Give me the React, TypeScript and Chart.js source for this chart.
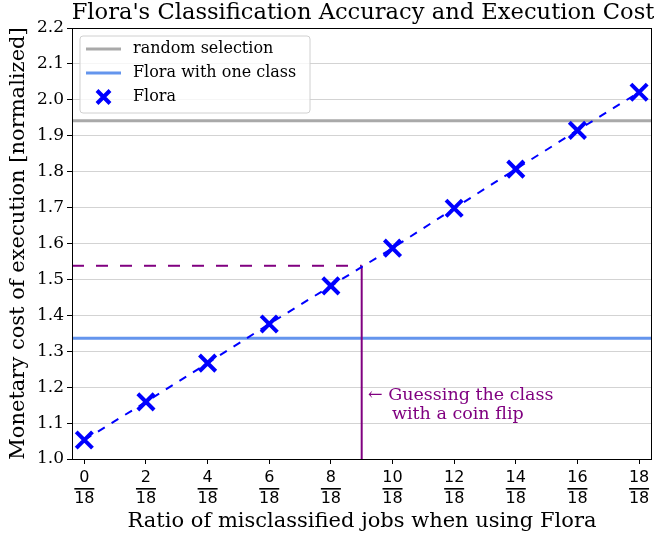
import React, { useEffect, useRef } from "react";
import { Chart, registerables } from "chart.js";

Chart.register(...registerables);

const X_TICKS = [0, 2, 4, 6, 8, 10, 12, 14, 16, 18];
const X_DENOM = "18";
const Y_TICKS = [1.0, 1.1, 1.2, 1.3, 1.4, 1.5, 1.6, 1.7, 1.8, 1.9, 2.0, 2.1, 2.2];
const FLORA_X = [0, 2, 4, 6, 8, 10, 12, 14, 16, 18];
const FLORA_Y = [1.053, 1.159, 1.267, 1.376, 1.482, 1.587, 1.698, 1.807, 1.915, 2.021];
const RANDOM_SELECTION = 1.942;
const ONE_CLASS = 1.336;
const COIN_X = 9;
const COIN_Y = 1.538;
const X_MIN = -0.4;
const X_MAX = 18.42;
const Y_MIN = 1.0;
const Y_MAX = 2.2;

const TITLE = "Flora's Classification Accuracy and Execution Cost";
const X_LABEL = "Ratio of misclassified jobs when using Flora";
const Y_LABEL = "Monetary cost of execution [normalized]";
const ANNOT_1 = "← Guessing the class";
const ANNOT_2 = "with a coin flip";

const SERIF = "'DejaVu Serif', serif";
const SANS = "'DejaVu Sans', sans-serif";

const GRAY = "#a9a9a9";
const CBLUE = "#6495ed";
const BLUE = "#0000ff";
const PURPLE = "#800080";

const LEGEND_ITEMS = [
  { label: "random selection", kind: "line", color: GRAY },
  { label: "Flora with one class", kind: "line", color: CBLUE },
  { label: "Flora", kind: "marker", color: BLUE },
];

const decorPlugin = {
  id: "decor",
  afterDraw(chart: any) {
    const { ctx, chartArea } = chart;
    const xs = chart.scales.x;
    const ca = chartArea;
    ctx.save();
    // frame
    ctx.strokeStyle = "#000";
    ctx.lineWidth = 1;
    ctx.strokeRect(Math.round(ca.left) + 0.5, Math.round(ca.top) + 0.5, Math.round(ca.right - ca.left) - 1, Math.round(ca.bottom - ca.top));

    // x fraction tick labels
    ctx.fillStyle = "#000";
    ctx.font = `16px ${SANS}`;
    ctx.textAlign = "center";
    ctx.textBaseline = "middle";
    X_TICKS.forEach((v) => {
      const px = xs.getPixelForValue(v);
      ctx.fillText(String(v), px, ca.bottom + 18.5);
      ctx.fillText(X_DENOM, px, ca.bottom + 39.5);
      ctx.fillRect(px - 10, ca.bottom + 29, 20, 1.6);
    });

    // title
    ctx.font = `22.6px ${SERIF}`;
    ctx.textBaseline = "middle";
    ctx.fillText(TITLE, (ca.left + ca.right) / 2 + 1, 13);

    // x label
    ctx.font = `21px ${SERIF}`;
    ctx.fillText(X_LABEL, (ca.left + ca.right) / 2, 522);

    // y label
    ctx.save();
    ctx.translate(19, (ca.top + ca.bottom) / 2);
    ctx.rotate(-Math.PI / 2);
    ctx.fillText(Y_LABEL, 0, 0);
    ctx.restore();

    // annotation
    ctx.fillStyle = PURPLE;
    ctx.font = `17.5px ${SERIF}`;
    ctx.textAlign = "left";
    ctx.fillText(ANNOT_1, 368, 395);
    ctx.fillText(ANNOT_2, 392, 414);

    // legend
    const lx = 80, ly = 36, lw = 230, lh = 77;
    ctx.beginPath();
    const r = 3;
    ctx.moveTo(lx + r, ly);
    ctx.arcTo(lx + lw, ly, lx + lw, ly + lh, r);
    ctx.arcTo(lx + lw, ly + lh, lx, ly + lh, r);
    ctx.arcTo(lx, ly + lh, lx, ly, r);
    ctx.arcTo(lx, ly, lx + lw, ly, r);
    ctx.closePath();
    ctx.fillStyle = "rgba(255,255,255,0.8)";
    ctx.fill();
    ctx.strokeStyle = "#d0d0d0";
    ctx.lineWidth = 1;
    ctx.stroke();
    ctx.font = `16px ${SERIF}`;
    ctx.textBaseline = "middle";
    LEGEND_ITEMS.forEach((it, i) => {
      const y = ly + 13 + i * 24;
      if (it.kind === "line") {
        ctx.strokeStyle = it.color;
        ctx.lineWidth = 3;
        ctx.beginPath();
        ctx.moveTo(86, y);
        ctx.lineTo(121, y);
        ctx.stroke();
      } else {
        ctx.strokeStyle = it.color;
        ctx.lineWidth = 4;
        ctx.beginPath();
        ctx.moveTo(97, y - 6.5);
        ctx.lineTo(110, y + 6.5);
        ctx.moveTo(110, y - 6.5);
        ctx.lineTo(97, y + 6.5);
        ctx.stroke();
      }
      ctx.fillStyle = "#000";
      ctx.fillText(it.label, 133, y);
    });
    ctx.restore();
  },
};

export default function App() {
  const ref = useRef<HTMLCanvasElement>(null);
  useEffect(() => {
    document.body.style.margin = "0";
    const canvas = ref.current!;
    const chart = new Chart(canvas, {
      type: "scatter",
      data: {
        datasets: [
          {
            label: "random selection",
            data: [{ x: X_MIN, y: RANDOM_SELECTION }, { x: X_MAX, y: RANDOM_SELECTION }],
            showLine: true,
            borderColor: GRAY,
            borderWidth: 3,
            pointRadius: 0,
            order: 5,
          },
          {
            label: "Flora with one class",
            data: [{ x: X_MIN, y: ONE_CLASS }, { x: X_MAX, y: ONE_CLASS }],
            showLine: true,
            borderColor: CBLUE,
            borderWidth: 3,
            pointRadius: 0,
            order: 4,
          },
          {
            label: "coin h",
            data: [{ x: X_MIN, y: COIN_Y }, { x: COIN_X, y: COIN_Y }],
            showLine: true,
            borderColor: PURPLE,
            borderWidth: 2,
            borderDash: [12, 12],
            pointRadius: 0,
            order: 3,
          },
          {
            label: "coin v",
            data: [{ x: COIN_X, y: Y_MIN }, { x: COIN_X, y: COIN_Y }],
            showLine: true,
            borderColor: PURPLE,
            borderWidth: 2,
            pointRadius: 0,
            order: 2,
          },
          {
            label: "Flora",
            data: FLORA_X.map((x, i) => ({ x, y: FLORA_Y[i] })),
            showLine: true,
            borderColor: BLUE,
            backgroundColor: BLUE,
            borderWidth: 2,
            borderDash: [8, 8],
            pointStyle: "crossRot",
            pointRadius: 11.5,
            pointBorderWidth: 4,
            pointBorderColor: BLUE,
            order: 1,
          },
        ],
      },
      options: {
        animation: false,
        responsive: false,
        devicePixelRatio: 1,
        layout: { autoPadding: false, padding: { top: 28, right: 2, left: 0, bottom: 0 } },
        plugins: { legend: { display: false }, title: { display: false }, tooltip: { enabled: false } },
        scales: {
          x: {
            type: "linear",
            min: X_MIN,
            max: X_MAX,
            afterBuildTicks: (s: any) => {
              s.ticks = X_TICKS.map((v) => ({ value: v }));
            },
            afterFit: (s: any) => {
              s.height = 81;
            },
            ticks: { display: false },
            grid: { drawOnChartArea: false, drawTicks: true, tickLength: 5, tickColor: "#000", tickWidth: 1 },
            border: { display: false },
          },
          y: {
            type: "linear",
            min: Y_MIN,
            max: Y_MAX,
            afterBuildTicks: (s: any) => {
              s.ticks = Y_TICKS.map((v) => ({ value: v }));
            },
            afterFit: (s: any) => {
              s.width = 72;
            },
            ticks: {
              color: "#000",
              font: { family: SERIF, size: 17 },
              padding: 3,
              callback: (v: any) => Number(v).toFixed(1),
            },
            grid: { color: "#d3d3d3", lineWidth: 1, tickLength: 5, tickColor: "#000" },
            border: { display: false },
          },
        },
      },
      plugins: [decorPlugin],
    } as any);
    return () => chart.destroy();
  }, []);
  return <canvas ref={ref} width={654} height={540} style={{ display: "block" }} />;
}
